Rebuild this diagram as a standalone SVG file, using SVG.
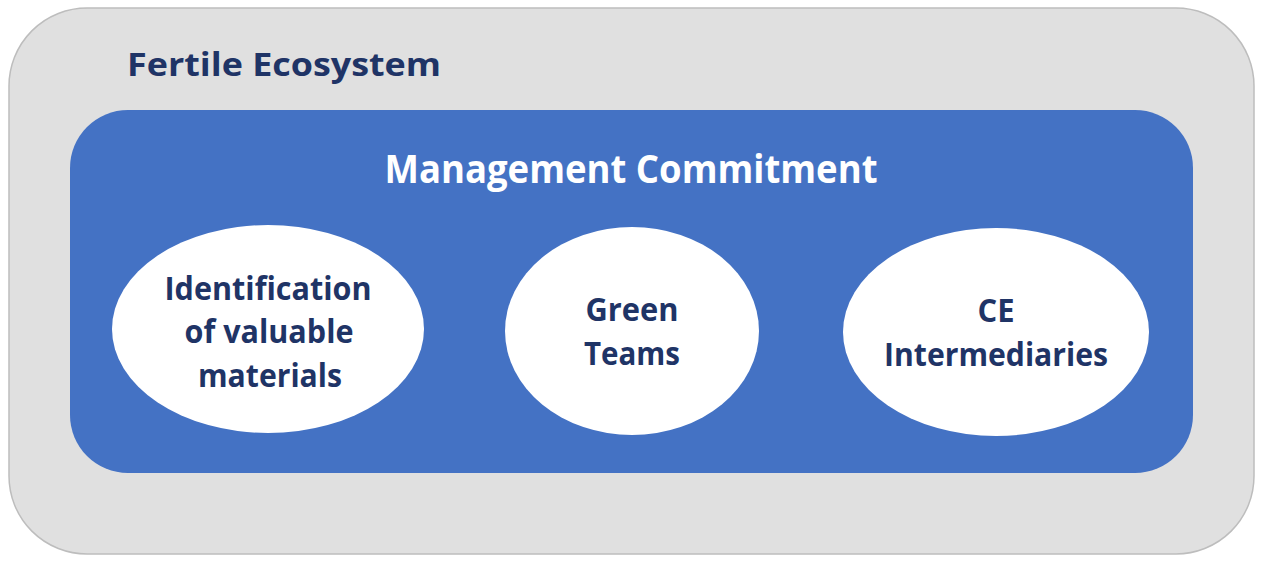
<svg xmlns="http://www.w3.org/2000/svg" width="1267" height="565" viewBox="0 0 1267 565">
  <style>
    .t { font-family: "Open Sans", "Noto Sans", "Liberation Sans", sans-serif; font-weight: bold; }
    .navy { fill: #1f3466; }
    .ell { fill: #ffffff; }
    .et { font-size: 32px; text-anchor: middle; }
  </style>
  <g id="fertile-ecosystem">
    <rect x="9" y="8" width="1245" height="546" rx="78" ry="78" fill="#e0e0e0" stroke="#bdbdbd" stroke-width="1.5"/>
    <text class="t navy" x="127" y="76" font-size="32" textLength="314" lengthAdjust="spacingAndGlyphs">Fertile Ecosystem</text>
  </g>
  <g id="management-commitment">
    <rect x="70" y="110" width="1123" height="363" rx="58" ry="58" fill="#4472c4"/>
    <text class="t" x="631" y="183" font-size="39" fill="#ffffff" text-anchor="middle" textLength="493" lengthAdjust="spacingAndGlyphs">Management Commitment</text>
  </g>
  <g id="identification">
    <ellipse class="ell" cx="268" cy="329" rx="156" ry="104"/>
    <text class="t navy et" x="268" y="300" textLength="207" lengthAdjust="spacingAndGlyphs">Identification</text>
    <text class="t navy et" x="269" y="343" textLength="169" lengthAdjust="spacingAndGlyphs">of valuable</text>
    <text class="t navy et" x="270" y="387" textLength="144" lengthAdjust="spacingAndGlyphs">materials</text>
  </g>
  <g id="green-teams">
    <ellipse class="ell" cx="632" cy="331" rx="127" ry="104"/>
    <text class="t navy et" x="632" y="321" textLength="93" lengthAdjust="spacingAndGlyphs">Green</text>
    <text class="t navy et" x="632" y="365" textLength="96" lengthAdjust="spacingAndGlyphs">Teams</text>
  </g>
  <g id="ce-intermediaries">
    <ellipse class="ell" cx="996" cy="332" rx="153" ry="104"/>
    <text class="t navy et" x="996" y="322" textLength="37" lengthAdjust="spacingAndGlyphs">CE</text>
    <text class="t navy et" x="996" y="366" textLength="224" lengthAdjust="spacingAndGlyphs">Intermediaries</text>
  </g>
  <g id="connectors"></g>
</svg>
